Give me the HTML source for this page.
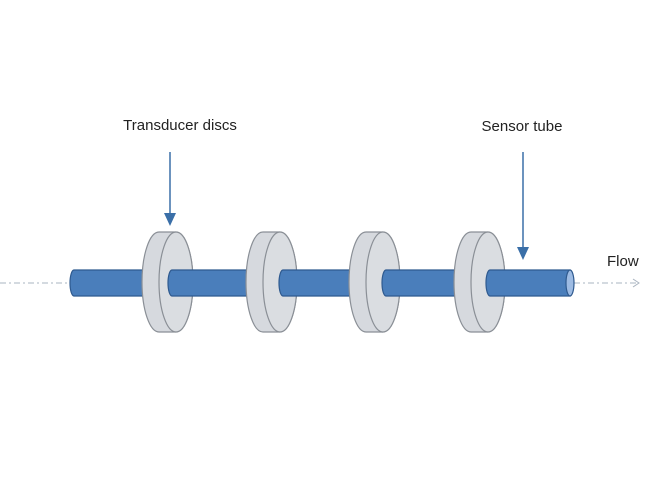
<!DOCTYPE html>
<html><head><style>body{margin:0;background:#fff}svg{display:block}</style></head><body>
<svg width="668" height="503" viewBox="0 0 668 503" xmlns="http://www.w3.org/2000/svg" font-family="Liberation Sans, sans-serif">
<defs><marker id="ah" markerWidth="10" markerHeight="10" refX="5" refY="8" orient="auto" markerUnits="userSpaceOnUse"></marker></defs>
<rect width="668" height="503" fill="#fff"/>
<g stroke="#aab4c0" stroke-width="1" stroke-dasharray="6,3,2,3" fill="none">
<line x1="0" y1="283" x2="70" y2="283"/>
<line x1="574" y1="283" x2="638" y2="283"/>
</g>
<polyline points="633,279 639,283 633,287" fill="none" stroke="#aab4c0" stroke-width="1"/>
<g id="tube">
<!-- segment 0 -->
<path d="M74,270 H160 V296 H74 A4,13 0 0 1 74,270 Z" fill="#4a7ebb" stroke="#2f5a8f" stroke-width="1.2"/>
</g>
<!-- disc template function expanded -->
<g stroke="#8a8f96" stroke-width="1.2">
 <!-- disc1 -->
 <path d="M159,232 H176 A17,50 0 0 1 176,332 H159 A17,50 0 0 1 159,232 Z" fill="#d6d9de"/>
 <ellipse cx="176" cy="282" rx="17" ry="50" fill="#dadde1"/>
</g>
<path d="M172,270 H262 V296 H172 A4,13 0 0 1 172,270 Z" fill="#4a7ebb" stroke="#2f5a8f" stroke-width="1.2"/>
<g stroke="#8a8f96" stroke-width="1.2">
 <path d="M263,232 H280 A17,50 0 0 1 280,332 H263 A17,50 0 0 1 263,232 Z" fill="#d6d9de"/>
 <ellipse cx="280" cy="282" rx="17" ry="50" fill="#dadde1"/>
</g>
<path d="M283,270 H366 V296 H283 A4,13 0 0 1 283,270 Z" fill="#4a7ebb" stroke="#2f5a8f" stroke-width="1.2"/>
<g stroke="#8a8f96" stroke-width="1.2">
 <path d="M366,232 H383 A17,50 0 0 1 383,332 H366 A17,50 0 0 1 366,232 Z" fill="#d6d9de"/>
 <ellipse cx="383" cy="282" rx="17" ry="50" fill="#dadde1"/>
</g>
<path d="M386,270 H470 V296 H386 A4,13 0 0 1 386,270 Z" fill="#4a7ebb" stroke="#2f5a8f" stroke-width="1.2"/>
<g stroke="#8a8f96" stroke-width="1.2">
 <path d="M471,232 H488 A17,50 0 0 1 488,332 H471 A17,50 0 0 1 471,232 Z" fill="#d6d9de"/>
 <ellipse cx="488" cy="282" rx="17" ry="50" fill="#dadde1"/>
</g>
<path d="M490,270 H570 V296 H490 A4,13 0 0 1 490,270 Z" fill="#4a7ebb" stroke="#2f5a8f" stroke-width="1.2"/>
<ellipse cx="570" cy="283" rx="4" ry="13" fill="#9dbbe3" stroke="#2f5a8f" stroke-width="1.2"/>
<!-- arrows -->
<line x1="170" y1="152" x2="170" y2="214" stroke="#3a6fa8" stroke-width="1.5"/>
<polygon points="164,213 176,213 170,226" fill="#3a6fa8"/>
<line x1="523" y1="152" x2="523" y2="248" stroke="#3a6fa8" stroke-width="1.5"/>
<polygon points="517,247 529,247 523,260" fill="#3a6fa8"/>
<g font-size="15" fill="#222">
<text x="180" y="130" text-anchor="middle">Transducer discs</text>
<text x="522" y="131" text-anchor="middle">Sensor tube</text>
<text x="607" y="266">Flow</text>
</g>
</svg>
</body></html>
